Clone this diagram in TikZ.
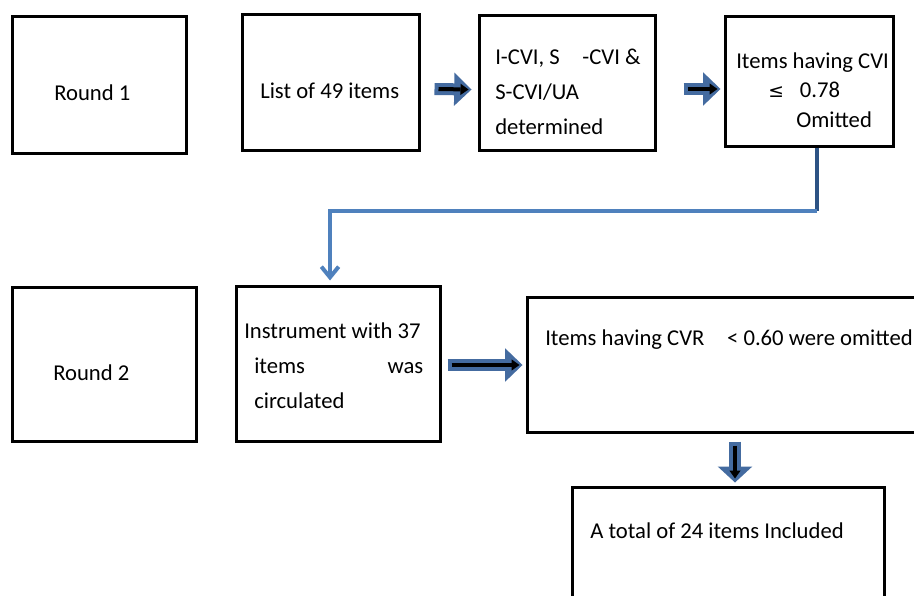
\documentclass[tikz,border=0pt]{standalone}
\usepackage{fontspec}
\setmainfont{Carlito}
\newfontfamily\symfont{DejaVu Sans}
\usetikzlibrary{arrows.meta, positioning, calc}
\definecolor{arrowblue}{RGB}{68,107,160}
\definecolor{linkblue}{RGB}{79,129,189}
\definecolor{linkdark}{RGB}{45,83,132}

\begin{document}
\begin{tikzpicture}[x=0.75pt, y=-0.75pt,
    box/.style={draw, line width=2.25pt, inner sep=0pt},
    txt/.style={anchor=base west, inner sep=0pt, align=left, font=\fontsize{17}{26.25}\selectfont},
    fatarrow/.style={draw=arrowblue, line width=9pt, -{Triangle[length=13pt, width=25pt, line width=0pt]}},
    thinarrow/.style={draw=black, line width=3pt, -{Triangle[length=6pt, width=8.5pt, line width=0pt]}},
    link/.style={draw=linkblue, line width=3pt}
]
    \useasboundingbox (0,0) rectangle (914,596);
    \clip (0,0) rectangle (914,596);

    % round 1
    \node[box, minimum width=130.5pt, minimum height=102.75pt] (r1) at (99,84.5) {};
    \node[box, minimum width=132.75pt, minimum height=102pt] (list) at (330.5,82) {};
    \node[box, minimum width=132pt, minimum height=101.25pt] (icvi) at (567,82.5) {};
    \node[box, minimum width=126pt, minimum height=97.5pt] (cvi) at (809,81) {};

    \node[txt] (t-r1) at (54,100) {Round 1};
    \node[txt] (t-list) at (260,98) {List of 49 items};
    \node[txt] (t-icvi) at (495,134) {I-CVI, S\quad-CVI \&\\S-CVI/UA\\determined};
    \node[txt, font=\fontsize{17}{22}\selectfont] (t-cvi) at (736,127)
        {Items having CVI\\\hspace*{24pt}{\symfont\fontsize{14}{22}\selectfont ≤}\hspace{12pt}0.78\\\hspace*{45pt}Omitted};

    \draw[fatarrow] ($(list.east)+(14,7)$) -- ($(icvi.west)+(-6,7)$);
    \draw[thinarrow] ($(list.east)+(18,7)$) -- ($(icvi.west)+(-9,7)$);
    \draw[fatarrow] ($(icvi.east)+(27,6.5)$) -- ($(cvi.west)+(-3,8)$);
    \draw[thinarrow] ($(icvi.east)+(31,6.5)$) -- ($(cvi.west)+(-6,8)$);

    % round 2
    \node[box, minimum width=138pt, minimum height=115.5pt] (r2) at (104,364) {};
    \node[box, minimum width=153pt, minimum height=116.25pt] (instr) at (338,363.5) {};
    \node[box, minimum width=312pt, minimum height=101.25pt] (cvr) at (735,364.5) {};
    \node[box, minimum width=234pt, minimum height=114.75pt] (total) at (728,563.5) {};

    \node[txt] (t-r2) at (53,380) {Round 2};
    \node[txt] (t-instr) at (244,408)
        {Instrument with 37\\\hspace*{7.5pt}\makebox[126.75pt][s]{items\hfill was}\\\hspace*{7.5pt}circulated};
    \node[txt] (t-cvr) at (545,345) {Items having CVR\quad < 0.60 were omitted};
    \node[txt] (t-total) at (590,538) {A total of 24 items Included};

    \draw[fatarrow] ($(instr.east)+(6,1.5)$) -- ($(cvr.west)+(-3,0.5)$);
    \draw[thinarrow] ($(instr.east)+(10,1.5)$) -- ($(cvr.west)+(-6,0.5)$);
    \draw[fatarrow, -{Triangle[length=12pt, width=26pt, line width=0pt]}] ($(cvr.south)+(0,8)$) -- ($(total.north)+(7,-3)$);
    \draw[thinarrow] ($(cvr.south)+(0,12)$) -- ($(total.north)+(7,-7)$);

    % link between rounds
    \draw[link, draw=linkdark] ($(cvi.south)+(8,0)$) -- ++(0,63) coordinate (bend);
    \draw[link, -{Straight Barb[length=8pt, width=13pt]}] (bend) -| ($(instr.north)+(-8,-4)$);
\end{tikzpicture}
\end{document}
